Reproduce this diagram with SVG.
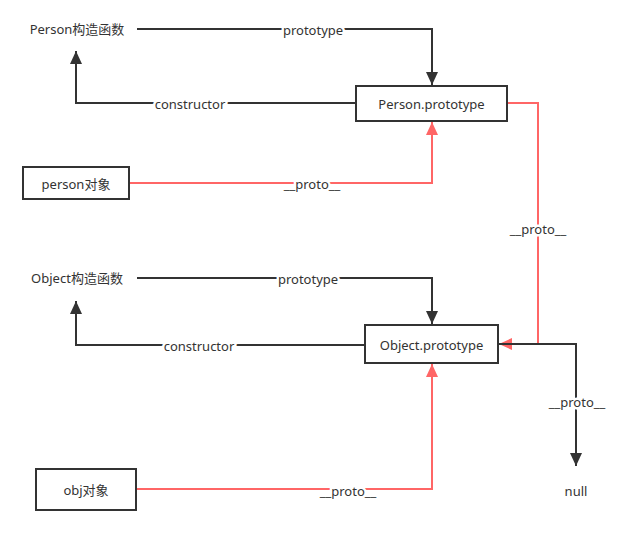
<svg xmlns="http://www.w3.org/2000/svg" width="632" height="541" viewBox="0 0 632 541">
<style>
text{font-family:"Noto Sans","Noto Sans CJK SC",sans-serif;font-size:13px;fill:#333;text-anchor:middle;dominant-baseline:central}
.lbl{stroke:#fff;stroke-width:5;paint-order:stroke}
.box{fill:#fff;stroke:#333;stroke-width:2}
.blk{fill:none;stroke:#333;stroke-width:2}
.red{fill:none;stroke:#ff6666;stroke-width:2}
</style>
<defs>
<marker id="ab" markerUnits="userSpaceOnUse" markerWidth="14" markerHeight="12" refX="13" refY="6" orient="auto"><path d="M0,0L13,6L0,12Z" fill="#333"/></marker>
<marker id="ar" markerUnits="userSpaceOnUse" markerWidth="14" markerHeight="12" refX="13" refY="6" orient="auto"><path d="M0,0L13,6L0,12Z" fill="#ff6666"/></marker>
</defs>
<g id="connectors">
<path class="blk" d="M137,29H432V85" marker-end="url(#ab)"/>
<text class="lbl" x="313" y="30">prototype</text>
<path class="blk" d="M356,103H76V51" marker-end="url(#ab)"/>
<text class="lbl" x="190" y="104">constructor</text>
<path class="red" d="M129,183H432V122" marker-end="url(#ar)"/>
<text class="lbl" x="312" y="184">__proto__</text>
<path class="red" d="M507,103H538V344H499" marker-end="url(#ar)"/>
<text class="lbl" x="538" y="229">__proto__</text>
<path class="blk" d="M137,278H432V324" marker-end="url(#ab)"/>
<text class="lbl" x="308" y="279">prototype</text>
<path class="blk" d="M365,345H76V301" marker-end="url(#ab)"/>
<text class="lbl" x="199" y="346">constructor</text>
<path class="red" d="M136,489H432V364" marker-end="url(#ar)"/>
<text class="lbl" x="348" y="491">__proto__</text>
<path class="blk" d="M498,344H576V466" marker-end="url(#ab)"/>
<text class="lbl" x="577" y="402">__proto__</text>
</g>
<g id="person-ctor"><text x="77" y="29">Person构造函数</text></g>
<g id="person-prototype"><rect class="box" x="356" y="86" width="151" height="35"/><text x="431.5" y="104">Person.prototype</text></g>
<g id="person-obj"><rect class="box" x="23" y="167" width="106" height="32"/><text x="76" y="184">person对象</text></g>
<g id="object-ctor"><text x="77" y="278">Object构造函数</text></g>
<g id="object-prototype"><rect class="box" x="365" y="325" width="133" height="38"/><text x="431.5" y="344.5">Object.prototype</text></g>
<g id="obj-obj"><rect class="box" x="36" y="469" width="100" height="41"/><text x="86" y="490">obj对象</text></g>
<g id="null"><text x="576" y="491">null</text></g>
</svg>
